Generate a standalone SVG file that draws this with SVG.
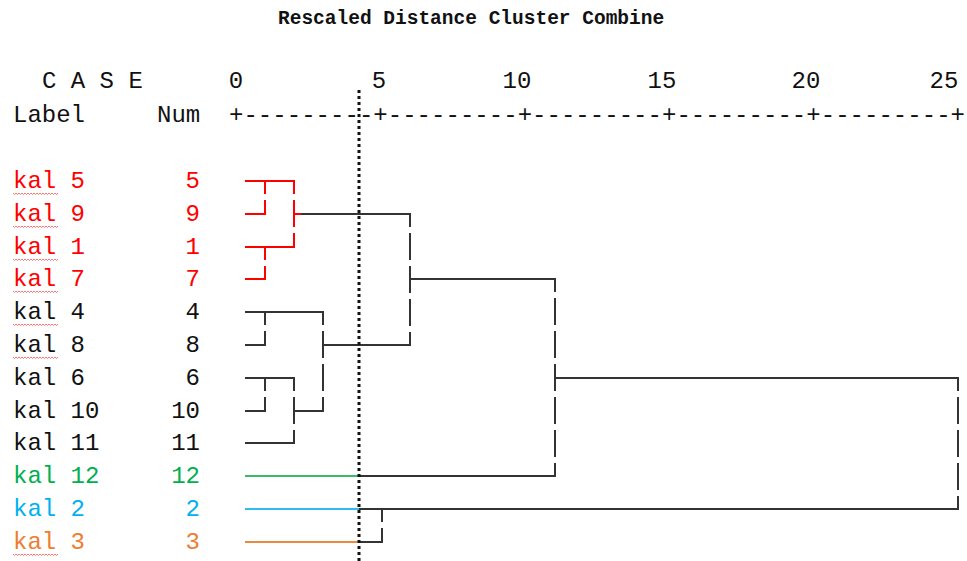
<svg xmlns="http://www.w3.org/2000/svg" width="967" height="561" viewBox="0 0 967 561">
<style>
text{font-family:"Liberation Mono","DejaVu Sans Mono",monospace;font-size:24px;fill:#111}
.title{font-size:19.5px;font-weight:bold}
.num{text-anchor:end}
.red{fill:#ff0000}.green{fill:#00b050}.blue{fill:#00b0f0}.orange{fill:#ed7d31}
.h{stroke:#333;stroke-width:2;fill:none}
.v{stroke:#333;stroke-width:2;fill:none;stroke-dasharray:27 6;stroke-dashoffset:14}
.hr{stroke:#ff0000;stroke-width:2;fill:none}
.vr{stroke:#ff0000;stroke-width:2;fill:none;stroke-dasharray:27 6;stroke-dashoffset:14}
.sq{stroke:#ff5050;stroke-width:0.8;fill:none}
</style>
<defs>
<path id="squiggle" d="M13 0 l1.5 1.5 l1.5 -1.5 l1.5 1.5 l1.5 -1.5 l1.5 1.5 l1.5 -1.5 l1.5 1.5 l1.5 -1.5 l1.5 1.5 l1.5 -1.5 l1.5 1.5 l1.5 -1.5 l1.5 1.5 l1.5 -1.5 l1.5 1.5 l1.5 -1.5 l1.5 1.5 l1.5 -1.5 l1.5 1.5 l1.5 -1.5 l1.5 1.5 l1.5 -1.5 l1.5 1.5 l1.5 -1.5 l1.5 1.5 l1.5 -1.5 l1.5 1.5 l1.5 -1.5 l1.5 1.5 l1.5 -1.5" class="sq"/>
</defs>
<rect width="967" height="561" fill="#fff"/>
<g id="header">
<text class="title" x="278" y="24">Rescaled Distance Cluster Combine</text>
<text x="42" y="88">C A S E</text>
<text x="13" y="122">Label</text>
<text x="157" y="122">Num</text>
<text x="236" y="88" text-anchor="middle">0</text>
<text x="379" y="88" text-anchor="middle">5</text>
<text x="517" y="88" text-anchor="middle">10</text>
<text x="662" y="88" text-anchor="middle">15</text>
<text x="806" y="88" text-anchor="middle">20</text>
<text x="944" y="88" text-anchor="middle">25</text>
<text x="229" y="122" textLength="736" lengthAdjust="spacing">+---------+---------+---------+---------+---------+</text>
</g>
<g id="case-5"><text class="red" x="13" y="188">kal 5</text><text class="num red" x="200" y="188">5</text><use href="#squiggle" y="193"/></g>
<g id="case-9"><text class="red" x="13" y="221">kal 9</text><text class="num red" x="200" y="221">9</text><use href="#squiggle" y="226"/></g>
<g id="case-1"><text class="red" x="13" y="254">kal 1</text><text class="num red" x="200" y="254">1</text><use href="#squiggle" y="259"/></g>
<g id="case-7"><text class="red" x="13" y="286">kal 7</text><text class="num red" x="200" y="286">7</text><use href="#squiggle" y="291"/></g>
<g id="case-4"><text x="13" y="319">kal 4</text><text class="num" x="200" y="319">4</text><use href="#squiggle" y="324"/></g>
<g id="case-8"><text x="13" y="352">kal 8</text><text class="num" x="200" y="352">8</text><use href="#squiggle" y="357"/></g>
<g id="case-6"><text x="13" y="385">kal 6</text><text class="num" x="200" y="385">6</text></g>
<g id="case-10"><text x="13" y="418">kal 10</text><text class="num" x="200" y="418">10</text></g>
<g id="case-11"><text x="13" y="450">kal 11</text><text class="num" x="200" y="450">11</text></g>
<g id="case-12"><text class="green" x="13" y="483">kal 12</text><text class="num green" x="200" y="483">12</text></g>
<g id="case-2"><text class="blue" x="13" y="516">kal 2</text><text class="num blue" x="200" y="516">2</text></g>
<g id="case-3"><text class="orange" x="13" y="549">kal 3</text><text class="num orange" x="200" y="549">3</text><use href="#squiggle" y="554"/></g>
<g id="connectors">
<path class="hr" d="M245 181H295M245 214H266M245 247H295M245 279H266M294 214H301"/>
<path class="vr" d="M265 181V214M265 247V279M294 181V247"/>
<path class="h" d="M301 214H411M410 279H556M245 312H324M245 345H266M323 345H411M245 378H295M245 411H266M245 443H295M294 411H324M359 476H556M555 378H959M359 509H959M359 542H383"/>
<path class="v" d="M410 214V345M265 312V345M323 312V411M265 378V411M294 378V443M555 279V476M958 378V509M382 509V542"/>
<path d="M245 476H359" stroke="#3cb96a" stroke-width="2"/>
<path d="M245 509H359" stroke="#2ebdf0" stroke-width="2"/>
<path d="M245 542H359" stroke="#e98a3e" stroke-width="2"/>
<path d="M359 90V561" stroke="#111" stroke-width="3" stroke-dasharray="3 3"/>
</g>
</svg>
